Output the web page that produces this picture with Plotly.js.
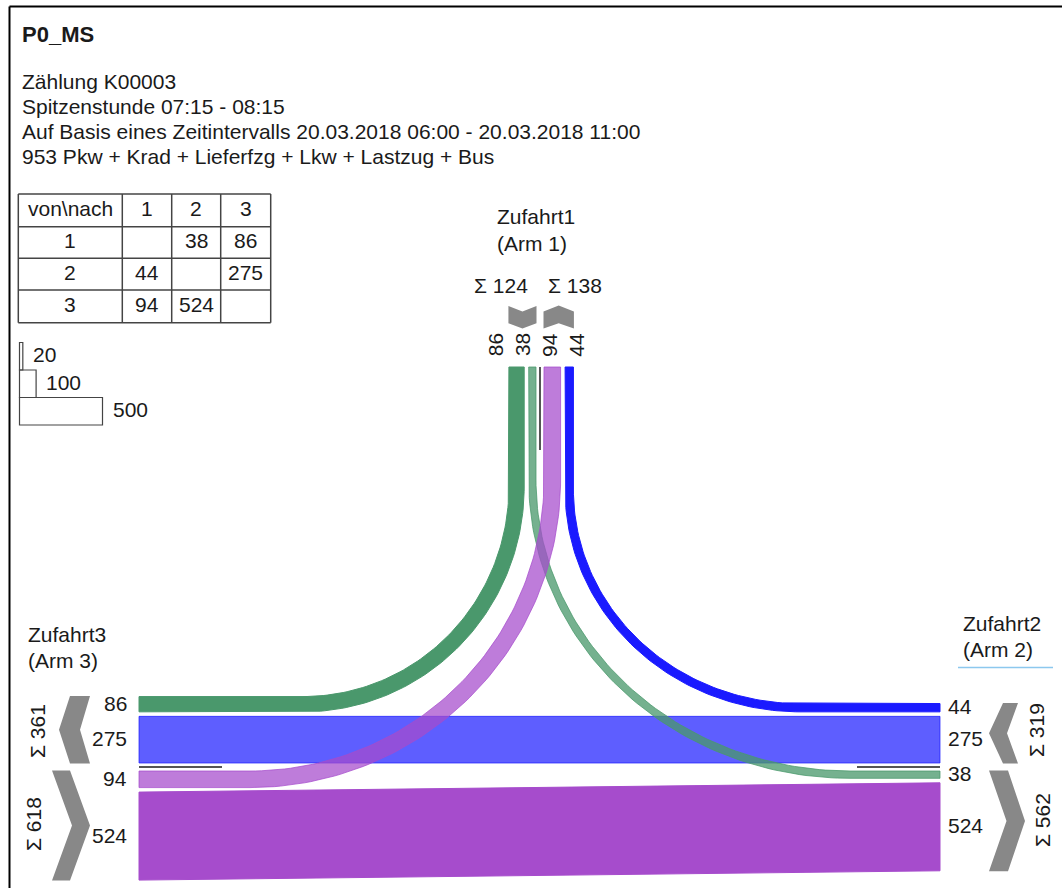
<!DOCTYPE html>
<html><head><meta charset="utf-8">
<script src="https://cdn.plot.ly/plotly-3.0.1.min.js"></script>
<style>html,body{margin:0;padding:0;background:#fff}#chart{width:1062px;height:888px}</style>
</head><body><div id="chart"></div>
<script>
// ---------------- data ----------------
const armNames = ["Zufahrt1", "Zufahrt2", "Zufahrt3"];
const armSubNames = ["(Arm 1)", "(Arm 2)", "(Arm 3)"];
const flowFrom = [1, 1, 2, 2, 3, 3];
const flowTo = [2, 3, 1, 3, 1, 2];
const flowValues = [38, 86, 44, 275, 94, 524];
const scaleLegendValues = [20, 100, 500];
const tableHeader = ["von\\nach", "1", "2", "3"];
const tableRowLabels = ["1", "2", "3"];
const titleText = "P0_MS";
const infoLines = [
  "Zählung K00003",
  "Spitzenstunde 07:15 - 08:15",
  "Auf Basis eines Zeitintervalls 20.03.2018 06:00 - 20.03.2018 11:00",
  "953 Pkw + Krad + Lieferfzg + Lkw + Lastzug + Bus"
];

// ---------------- layout / style ----------------
const FONT = "Liberation Sans, Arial, sans-serif";
const TXT = "#1a1a1a";
const FS = 21;
const S = 0.166;      // px per vehicle
const EXTRA = 2;      // visual extra width of a lane
const GAP = 3.5;
const TOP_Y = 367, LEFT_X = 139, RIGHT_X = 940, DIV_TOP_X = 540, DIV_SIDE_Y = 767, DIV_LEN = 83;

const flowStyle = {
  "1-3": "rgba(74,152,108,1)",
  "1-2": "rgba(74,152,108,0.76)",
  "2-1": "rgba(26,26,255,1)",
  "2-3": "rgba(26,26,255,0.7)",
  "3-1": "rgba(166,76,204,0.73)",
  "3-2": "rgba(166,76,204,1)"
};
const drawOrder = ["2-3", "3-2", "1-3", "2-1", "1-2", "3-1"];
const curveCorner = {
  "1-3": {cx: 303, cy: 487},
  "3-1": {cx: 250, cy: 480},
  "1-2": {cx: 850, cy: 480},
  "2-1": {cx: 800, cy: 490}
};
const laneOrder = {
  1: {out: {dir: -1, keys: ["1-2", "1-3"]}, in: {dir: 1, keys: ["3-1", "2-1"]}},
  2: {out: {dir: -1, keys: ["2-3", "2-1"]}, in: {dir: 1, keys: ["1-2", "3-2"]}},
  3: {in: {dir: -1, keys: ["2-3", "1-3"]}, out: {dir: 1, keys: ["3-1", "3-2"]}}
};

// ---------------- derived ----------------
const val = {};
flowValues.forEach((v, i) => { val[flowFrom[i] + "-" + flowTo[i]] = v; });
const laneW = v => S * v + EXTRA;

const lanes = {}, groups = {};
for (const arm of [1, 2, 3]) {
  for (const g of ["out", "in"]) {
    const cfg = laneOrder[arm][g];
    const div = arm === 1 ? DIV_TOP_X : DIV_SIDE_Y;
    let pos = div + cfg.dir * GAP;
    const start = pos;
    for (const k of cfg.keys) {
      const w = laneW(val[k]);
      lanes[arm + ":" + k] = pos + cfg.dir * w / 2;
      pos += cfg.dir * (w + GAP);
    }
    const end = pos - cfg.dir * GAP;
    groups[arm + ":" + g] = [Math.min(start, end), Math.max(start, end)];
  }
}

function offsetPoly(pts, w) {
  const L = [], R = [];
  for (let i = 0; i < pts.length; i++) {
    const a = pts[Math.max(0, i - 1)], b = pts[Math.min(pts.length - 1, i + 1)];
    let tx = b[0] - a[0], ty = b[1] - a[1];
    const n = Math.hypot(tx, ty) || 1; tx /= n; ty /= n;
    const nx = -ty, ny = tx;
    L.push([pts[i][0] + nx * w / 2, pts[i][1] + ny * w / 2]);
    R.push([pts[i][0] - nx * w / 2, pts[i][1] - ny * w / 2]);
  }
  return L.concat(R.reverse());
}

const traces = [];
for (const k of drawOrder) {
  const [a, b] = k.split("-").map(Number);
  const w = laneW(val[k]) - 1;
  let poly;
  if (a !== 1 && b !== 1) {
    const yL = lanes["3:" + k], yR = lanes["2:" + k];
    poly = [[LEFT_X, yL - w / 2], [RIGHT_X, yR - w / 2], [RIGHT_X, yR + w / 2], [LEFT_X, yL + w / 2]];
  } else {
    const side = a === 1 ? b : a;
    const xt = lanes["1:" + k];
    const ys = lanes[side + ":" + k];
    const xs = side === 3 ? LEFT_X : RIGHT_X;
    const {cx, cy} = curveCorner[k];
    const pts = [[xt, TOP_Y], [xt, cy]];
    const N = 80;
    for (let i = 1; i <= N; i++) {
      const t = (Math.PI / 2) * i / N;
      pts.push([cx + (xt - cx) * Math.cos(t), cy + (ys - cy) * Math.sin(t)]);
    }
    pts.push([xs, ys]);
    poly = offsetPoly(pts, w);
  }
  poly.push(poly[0]);
  traces.push({
    type: "scatter", mode: "lines",
    x: poly.map(p => p[0]), y: poly.map(p => p[1]),
    fill: "toself", fillcolor: flowStyle[k],
    line: {color: flowStyle[k], width: 1},
    hoverinfo: "skip", showlegend: false
  });
}

// ---------------- shapes ----------------
const shapes = [];
const line = (x0, y0, x1, y1, color, width) => shapes.push({type: "line", xref: "x", yref: "y", x0, y0, x1, y1, line: {color, width}});
const poly = (pts, color) => shapes.push({type: "path", xref: "x", yref: "y",
  path: "M" + pts.map(p => p[0] + "," + p[1]).join(" L") + " Z", fillcolor: color, line: {width: 0}});

// frame
line(9.5, 6.5, 1062, 6.5, "#000", 2);
line(9.5, 6.5, 9.5, 888, "#000", 2);

// dividers
line(DIV_TOP_X, TOP_Y, DIV_TOP_X, TOP_Y + DIV_LEN, "#555", 2);
line(LEFT_X, DIV_SIDE_Y, LEFT_X + DIV_LEN, DIV_SIDE_Y, "#555", 2);
line(RIGHT_X - DIV_LEN, DIV_SIDE_Y, RIGHT_X, DIV_SIDE_Y, "#555", 2);

// arrows
const GRAY = "#888888";
{
  const [a, b] = groups["1:out"], m = (a + b) / 2;
  poly([[a, 306], [m, 311.5], [b, 306], [b, 323.3], [m, 328.5], [a, 323.3]], GRAY);
  const [c, d] = groups["1:in"], n = (c + d) / 2;
  poly([[c, 311.5], [n, 305.5], [d, 311.5], [d, 328.5], [n, 323.3], [c, 328.5]], GRAY);
  const leftLt = (yt, yb, x0, x1, ts, nt) => { const ym = (yt + yb) / 2; poly([[ts, yt], [x1, yt], [nt, ym], [x1, yb], [ts, yb], [x0, ym]], GRAY); };
  const rightGt = (yt, yb, x0, te, x1, nt) => { const ym = (yt + yb) / 2; poly([[x0, yt], [te, yt], [x1, ym], [te, yb], [x0, yb], [nt, ym]], GRAY); };
  leftLt(groups["3:in"][0], groups["3:in"][1], 59, 90, 70, 80);
  rightGt(groups["3:out"][0], groups["3:out"][1], 52, 70, 90, 72);
  leftLt(groups["2:out"][0], groups["2:out"][1], 989, 1018, 1003, 1007);
  rightGt(groups["2:in"][0], groups["2:in"][1], 989, 1008, 1025, 1006.5);
}

// underline Zufahrt2
line(958, 667.5, 1053, 667.5, "#8cc8ee", 1.5);

// table
const colX = [18.3, 122.3, 171.7, 220.7, 270.7];
const rowY = [194, 226.7, 258.3, 290, 322.7];
for (const x of colX) line(x, rowY[0], x, rowY[rowY.length - 1], "#444", 1.5);
for (const y of rowY) line(colX[0], y, colX[colX.length - 1], y, "#444", 1.5);

// scale legend boxes
const LB_X = 19.5, LB_TOP = 342.5, LB_H = 27.5;
scaleLegendValues.forEach((v, i) => {
  shapes.push({type: "rect", xref: "x", yref: "y", x0: LB_X, x1: LB_X + S * v,
    y0: LB_TOP + i * LB_H, y1: LB_TOP + (i + 1) * LB_H, line: {color: "#444", width: 1.2}, fillcolor: "rgba(0,0,0,0)"});
});

// ---------------- annotations ----------------
const annotations = [];
const ann = (text, x, y, xanchor, extra) => annotations.push(Object.assign({
  text, x, y, xref: "x", yref: "y", xanchor: xanchor || "center", yanchor: "middle",
  showarrow: false, font: {family: FONT, size: FS, color: TXT}, borderpad: 0
}, extra || {}));

ann("<b>" + titleText + "</b>", 21, 34, "left", {font: {family: FONT, size: 22, color: TXT}});
infoLines.forEach((t, i) => ann(t, 21, 81.5 + i * 25, "left"));

// table text
tableHeader.forEach((t, j) => ann(t, (colX[j] + colX[j + 1]) / 2, (rowY[0] + rowY[1]) / 2 - 2));
tableRowLabels.forEach((r, i) => {
  const yc = (rowY[i + 1] + rowY[i + 2]) / 2 - 2;
  ann(r, (colX[0] + colX[1]) / 2, yc);
  for (let j = 0; j < 3; j++) {
    const k = (i + 1) + "-" + (j + 1);
    if (val[k] !== undefined) ann(String(val[k]), (colX[j + 1] + colX[j + 2]) / 2, yc);
  }
});

// scale legend labels
scaleLegendValues.forEach((v, i) => ann(String(v), LB_X + S * v + 9, LB_TOP + (i + 0.5) * LB_H - 1.5, "left"));

// arm names
ann(armNames[0], 496, 216.5, "left"); ann(armSubNames[0], 496, 243, "left");
ann(armNames[2], 27, 634, "left"); ann(armSubNames[2], 27, 660, "left");
ann(armNames[1], 962, 623, "left"); ann(armSubNames[1], 962, 649, "left");

// sums
const sumOut = a => flowValues.reduce((s, v, i) => s + (flowFrom[i] === a ? v : 0), 0);
const sumIn = a => flowValues.reduce((s, v, i) => s + (flowTo[i] === a ? v : 0), 0);
ann("Σ " + sumOut(1), 500.5, 285); ann("Σ " + sumIn(1), 575, 285);
ann("Σ " + sumIn(3), 37, 731, "center", {textangle: -90});
ann("Σ " + sumOut(3), 33, 824, "center", {textangle: -90});
ann("Σ " + sumOut(2), 1036, 730, "center", {textangle: -90});
ann("Σ " + sumIn(2), 1042, 820, "center", {textangle: -90});

// top lane labels (evenly spread)
const topKeys = laneOrder[1].out.keys.slice().reverse().concat(laneOrder[1].in.keys);
topKeys.forEach((k, i) => ann(String(val[k]), DIV_TOP_X - 4.5 + (i - 1.5) * 26.8, 345, "center", {textangle: -90}));
// left lane labels
laneOrder[3].in.keys.concat(laneOrder[3].out.keys).forEach(k => ann(String(val[k]), 128, lanes["3:" + k] - 1, "right"));
// right lane labels
laneOrder[2].out.keys.concat(laneOrder[2].in.keys).forEach(k => ann(String(val[k]), 947, lanes["2:" + k] - 1, "left"));

const layout = {
  width: 1062, height: 888,
  margin: {l: 0, r: 0, t: 0, b: 0},
  paper_bgcolor: "#fff", plot_bgcolor: "#fff",
  xaxis: {range: [0, 1062], visible: false, fixedrange: true},
  yaxis: {range: [888, 0], visible: false, fixedrange: true},
  shapes, annotations, showlegend: false
};
Plotly.newPlot("chart", traces, layout, {staticPlot: true, displayModeBar: false});
</script>
</body></html>
